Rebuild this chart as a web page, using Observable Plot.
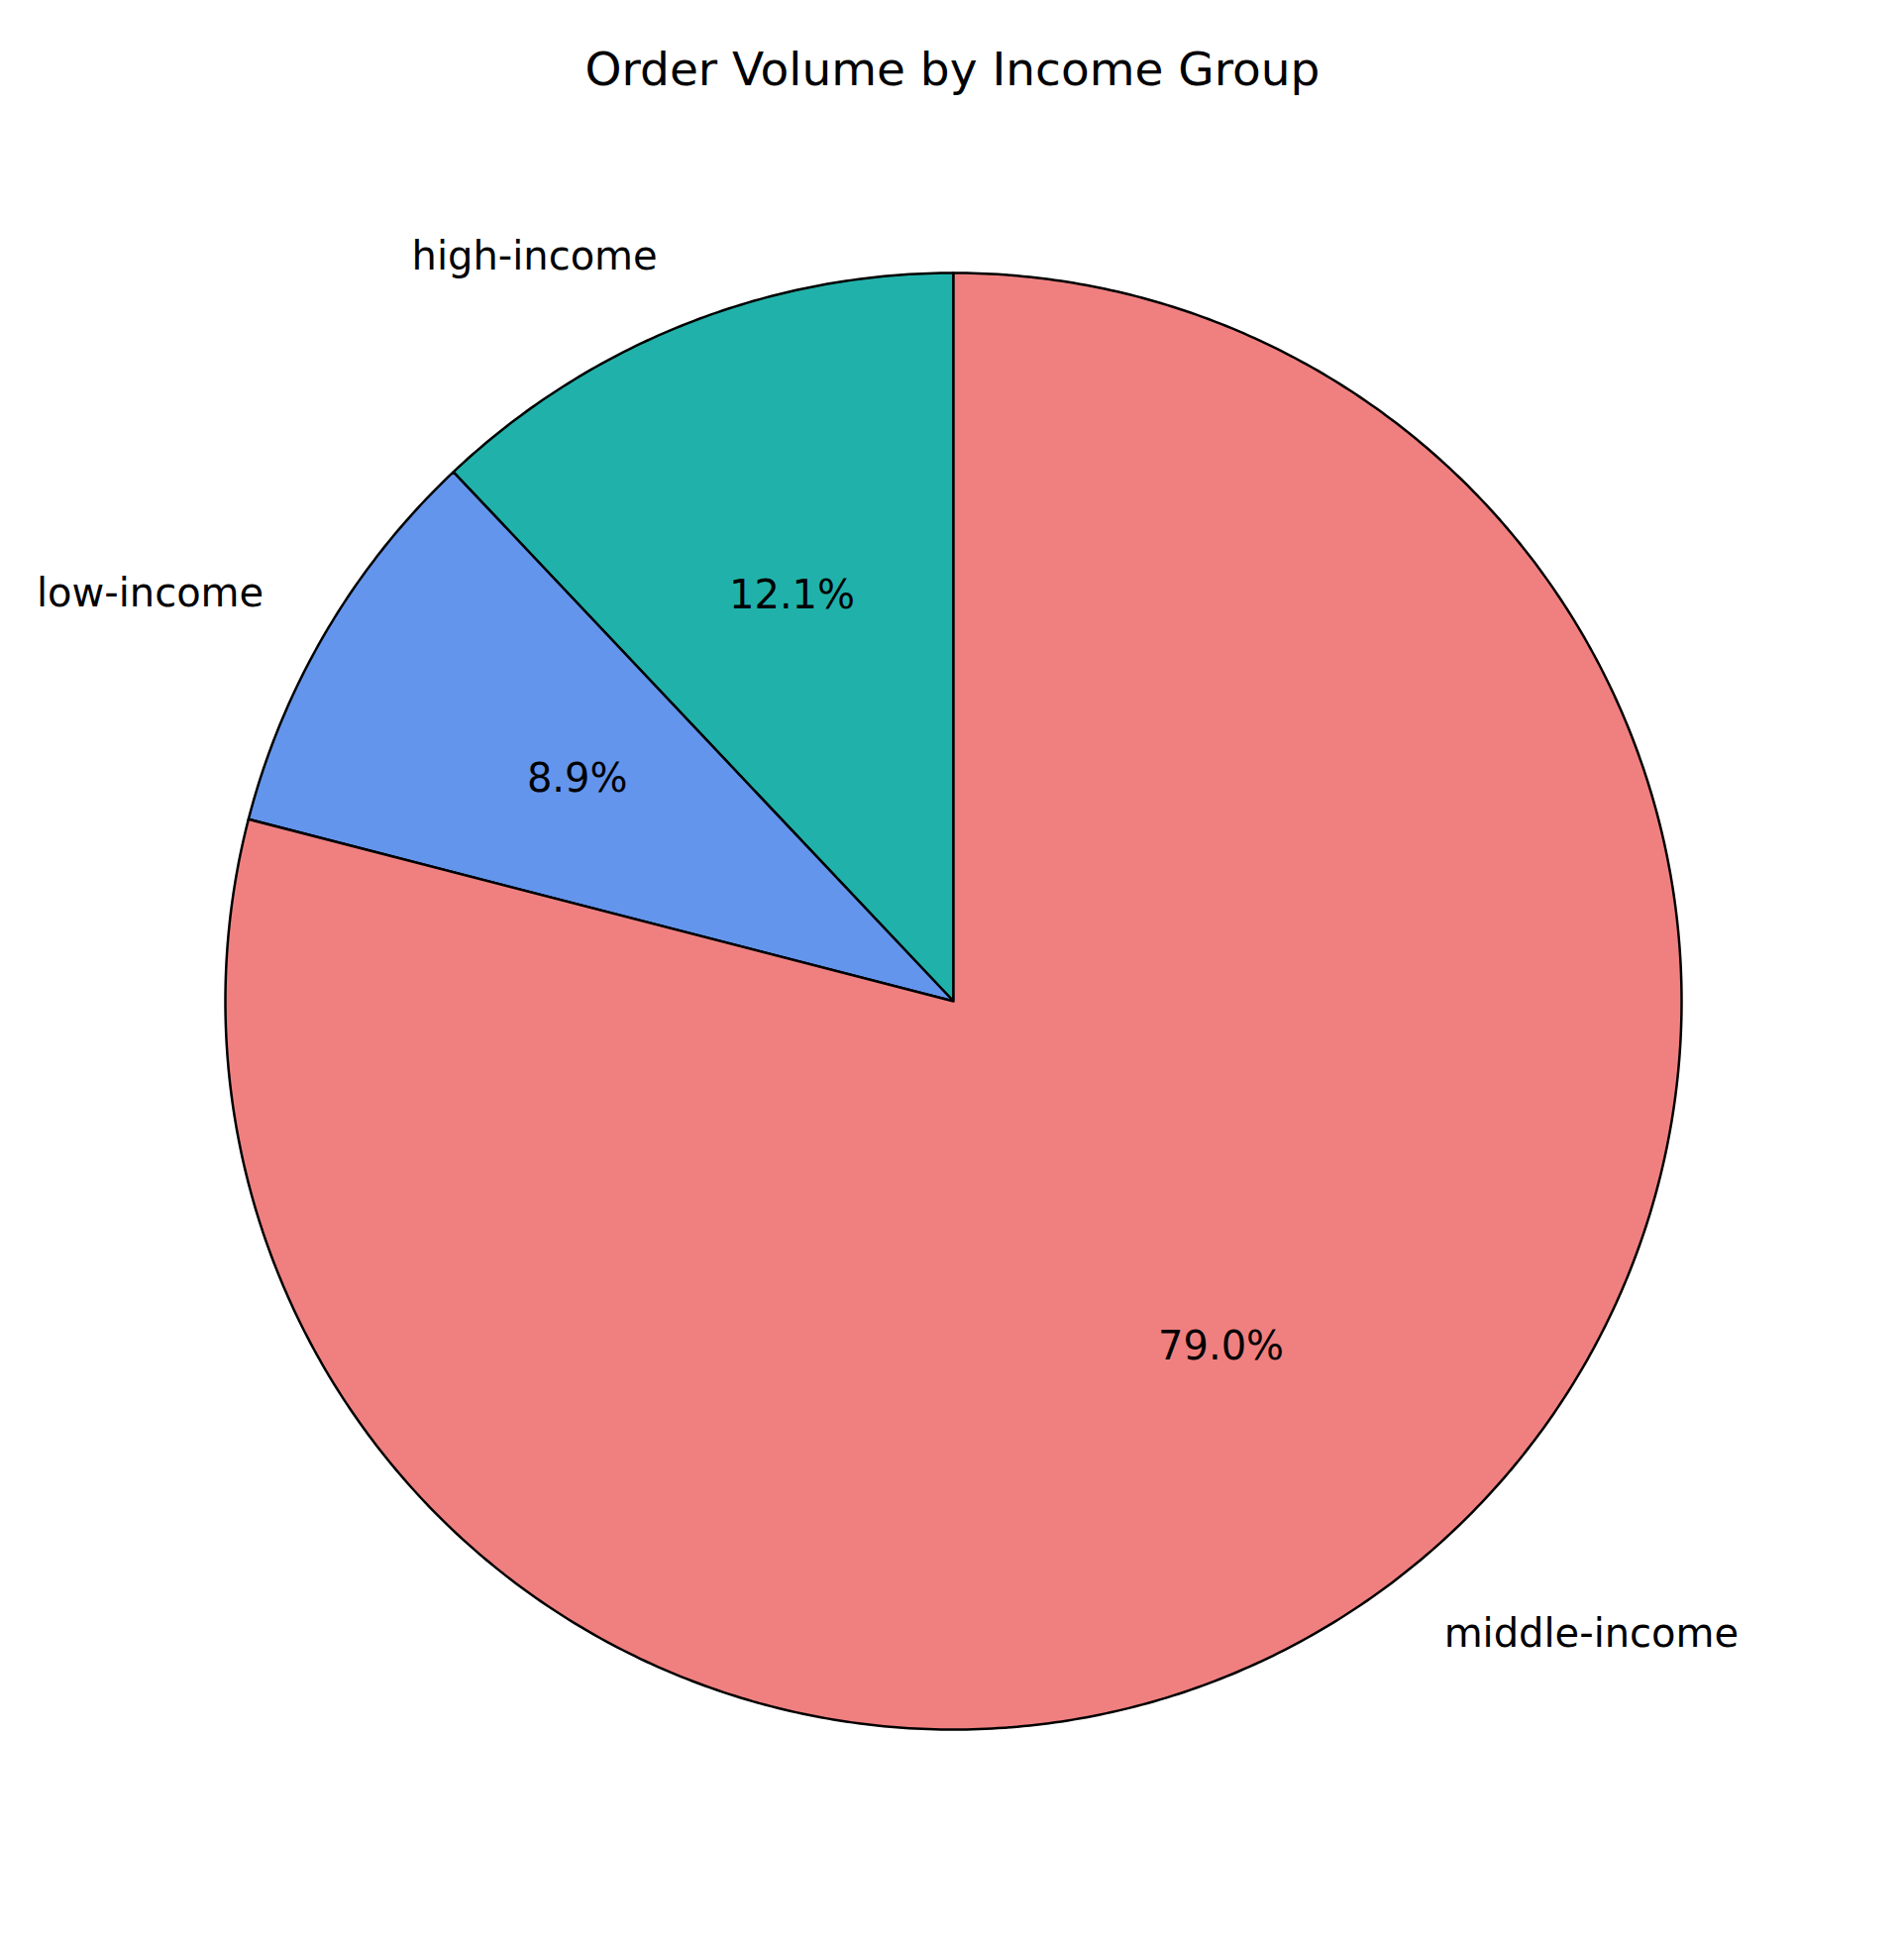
<!DOCTYPE html>
<html>
<head>
<meta charset="utf-8">
<script src="https://cdn.jsdelivr.net/npm/d3@7"></script>
<script src="https://cdn.jsdelivr.net/npm/@observablehq/plot@0.6"></script>
<style>
  body { margin: 0; background: white; }
</style>
</head>
<body>
<div id="chart"></div>
<script>
// datos (sentido antihorario desde arriba, como matplotlib startangle=90)
const groups = ['high-income', 'low-income', 'middle-income']
const shares = [12.05, 8.93, 79.02]
const colors = ['#20B2AA', '#6495ED', '#F08080']

const W = 1922, H = 1971, R = 735, CX = 962, CY = 1010

const total = d3.sum(shares)
let start = 90
const slices = groups.map((g, i) => {
  const sweep = shares[i] / total * 360
  const s = { group: g, pct: shares[i] / total * 100, color: colors[i], a0: start, a1: start + sweep }
  start += sweep
  return s
})

const rad = a => a * Math.PI / 180
// polígonos de cada porción, en unidades del radio
const outline = slices.flatMap(s => {
  const pts = [{ group: s.group, color: s.color, x: 0, y: 0 }]
  const n = Math.ceil((s.a1 - s.a0) / 0.5)
  for (let k = 0; k <= n; k++) {
    const a = rad(s.a0 + (s.a1 - s.a0) * k / n)
    pts.push({ group: s.group, color: s.color, x: Math.cos(a), y: Math.sin(a) })
  }
  pts.push({ group: s.group, color: s.color, x: 0, y: 0 })
  return pts
})

const labels = slices.map(s => {
  const m = rad((s.a0 + s.a1) / 2)
  return { group: s.group, pct: d3.format('.1f')(s.pct) + '%',
           lx: 1.1 * Math.cos(m), ly: 1.1 * Math.sin(m),
           px: 0.6 * Math.cos(m), py: 0.6 * Math.sin(m) }
})

const font = 'DejaVu Sans'

const chart = Plot.plot({
  width: W,
  height: H,
  margin: 0,
  style: { fontFamily: font, background: 'white' },
  x: { domain: [-CX / R, (W - CX) / R], axis: null },
  y: { domain: [-(H - CY) / R, CY / R], axis: null },
  marks: [
    Plot.line(outline, { x: 'x', y: 'y', z: 'group', fill: 'color', stroke: 'black', strokeWidth: 2.5, strokeLinejoin: 'round' }),
    Plot.text(labels.filter(d => d.lx < 0), { x: 'lx', y: 'ly', text: 'group', textAnchor: 'end', fontSize: 40, fill: 'black' }),
    Plot.text(labels.filter(d => d.lx >= 0), { x: 'lx', y: 'ly', text: 'group', textAnchor: 'start', fontSize: 40, fill: 'black' }),
    Plot.text(labels, { x: 'px', y: 'py', text: 'pct', fontSize: 40, fill: 'black' }),
    Plot.text(['Order Volume by Income Group'], { frameAnchor: 'top', dy: 52, text: d => d, fontSize: 47, fill: 'black' })
  ]
})

d3.select('#chart').append(() => chart)
</script>
</body>
</html>
